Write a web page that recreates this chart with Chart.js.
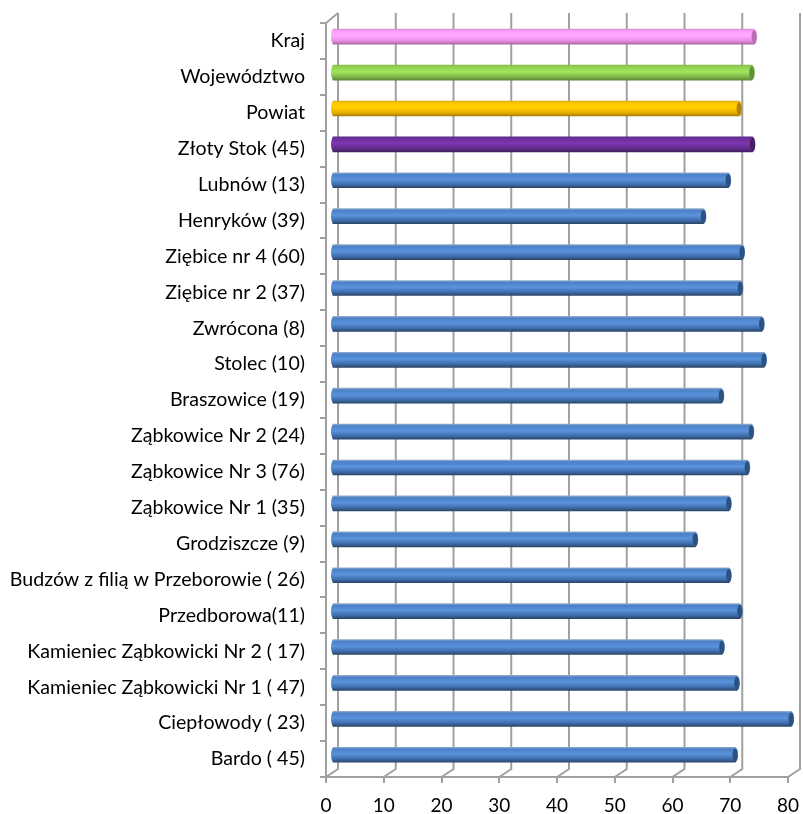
<!DOCTYPE html>
<html>
<head>
<meta charset="utf-8">
<title>Wykres</title>
<script src="https://cdn.jsdelivr.net/npm/chart.js@4"></script>
<style>
  body{margin:0;background:#fff;}
  canvas{display:block;}
</style>
</head>
<body>
<canvas id="chart" width="803" height="814"></canvas>
<script>
const categories = [
  "Kraj","Województwo","Powiat","Złoty Stok (45)","Lubnów (13)","Henryków (39)",
  "Ziębice nr 4 (60)","Ziębice nr 2 (37)","Zwrócona (8)","Stolec (10)","Braszowice (19)",
  "Ząbkowice Nr 2 (24)","Ząbkowice Nr 3 (76)","Ząbkowice Nr 1 (35)","Grodziszcze (9)",
  "Budzów z filią w Przeborowie ( 26)","Przedborowa(11)","Kamieniec Ząbkowicki Nr 2 ( 17)",
  "Kamieniec Ząbkowicki Nr 1 ( 47)","Ciepłowody ( 23)","Bardo ( 45)"
];
const values = [
  73.1,72.7,70.5,72.8,68.6,64.3,71.0,70.7,74.4,74.8,67.4,
  72.6,71.9,68.7,62.9,68.7,70.6,67.5,70.1,79.5,69.8
];
const xTicks = [0,10,20,30,40,50,60,70,80];

// top edge, body, highlight, shade, bottom edge, end cap
const pink   = ["#d78fd6","#ff9cff","#ffaaff","#e58be4","#a8689f","#b66fb4"];
const green  = ["#86bd55","#8fd24f","#a2e65f","#7fb548","#5c8737","#62913c"];
const gold   = ["#d9a60c","#ffc600","#ffd000","#e6ac00","#a77e06","#b08406"];
const purple = ["#5b2a86","#7030a0","#7d36b0","#5f2a8a","#41205f","#45215f"];
const blue   = ["#8fa9cb","#4a80c6","#5a93dd","#3d6ba8","#2a4668","#2c5282"];
const barColors = [pink,green,gold,purple].concat(categories.slice(4).map(()=>blue));

const gridColor = "#a0a0a0";

function barFill(ctx){
  const chart = ctx.chart;
  const c = barColors[ctx.dataIndex];
  if(!chart.scales.y || !chart.chartArea) return c ? c[1] : blue[1];
  const y = chart.scales.y.getPixelForValue(ctx.dataIndex);
  const g = chart.ctx.createLinearGradient(0,y-7.5,0,y+7.5);
  g.addColorStop(0,c[0]);
  g.addColorStop(0.12,c[1]);
  g.addColorStop(0.45,c[2]);
  g.addColorStop(0.8,c[3]);
  g.addColorStop(1,c[4]);
  return g;
}

function noPadding(s){
  s.paddingLeft = 0;
  s.paddingRight = 0;
  s.paddingTop = 0;
  s.paddingBottom = 0;
}

// fake 3D: back wall grid, bars pushed into the depth, round bar ends
const depth = {
  id:"depth",
  beforeDatasetsDraw(chart){
    const c = chart.ctx, x = chart.scales.x, a = chart.chartArea;
    c.save();
    c.strokeStyle = gridColor;
    c.lineWidth = 2;
    xTicks.forEach(t=>{
      const px = x.getPixelForValue(t);
      c.beginPath();
      c.moveTo(px,a.bottom);
      c.lineTo(px+12,a.bottom-8);
      c.lineTo(px+12,a.top-10);
      c.stroke();
    });
    c.beginPath();
    c.moveTo(a.left,a.top);
    c.lineTo(a.left+12,a.top-10);
    c.stroke();
    c.restore();
    c.save();
    c.translate(6,-4.3);
  },
  afterDatasetsDraw(chart){
    const c = chart.ctx;
    chart.getDatasetMeta(0).data.forEach((el,i)=>{
      const h = el.height/2;
      c.fillStyle = barFill({chart:chart,dataIndex:i});
      c.beginPath();
      c.ellipse(el.base+1,el.y,3,h,0,0,Math.PI*2);
      c.fill();
      c.beginPath();
      c.ellipse(el.x,el.y,3,h,0,0,Math.PI*2);
      c.fill();
      c.fillStyle = barColors[i][5];
      c.beginPath();
      c.ellipse(el.x,el.y,2.6,h-1.2,0,0,Math.PI*2);
      c.fill();
    });
    c.restore();
  }
};

new Chart(document.getElementById("chart"), {
  type:"bar",
  plugins:[depth],
  data:{
    labels:categories,
    datasets:[{
      data:values,
      backgroundColor:barFill,
      barThickness:15,
      borderWidth:0
    }]
  },
  options:{
    indexAxis:"y",
    responsive:false,
    animation:false,
    layout:{padding:{top:23,right:15,left:0,bottom:0}},
    plugins:{legend:{display:false},tooltip:{enabled:false}},
    scales:{
      x:{
        min:0,
        max:80,
        afterFit(s){ s.height = 37; noPadding(s); },
        afterBuildTicks(s){ s.ticks = xTicks.map(v=>({value:v})); },
        grid:{drawOnChartArea:false,color:gridColor,lineWidth:2,tickLength:6},
        border:{color:gridColor,width:2},
        ticks:{color:"#000",font:{family:"Lato",size:19},padding:11,maxRotation:0}
      },
      y:{
        afterFit(s){ s.width = 326; noPadding(s); },
        grid:{drawOnChartArea:false,color:gridColor,lineWidth:2,tickLength:6,offset:true},
        border:{color:gridColor,width:2},
        ticks:{color:"#000",font:{family:"Lato",size:19.6},padding:15,autoSkip:false}
      }
    }
  }
});
</script>
</body>
</html>
